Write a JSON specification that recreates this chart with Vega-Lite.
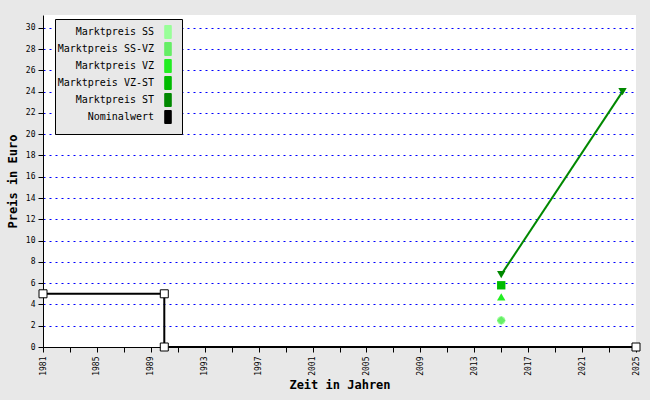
{
  "$schema": "https://vega.github.io/schema/vega-lite/v6.json",
  "width": 593,
  "height": 332,
  "autosize": "none",
  "padding": {"left": 43, "top": 15, "right": 14, "bottom": 53},
  "background": "#e8e8e8",
  "config": {
    "font": "DejaVu Sans Mono",
    "view": {"fill": "white", "stroke": null}
  },
  "data": {
    "values": [
      {"series": "Nominalwert", "year": 1981, "price": 5, "ord": 1},
      {"series": "Nominalwert", "year": 1990, "price": 5, "ord": 2},
      {"series": "Nominalwert", "year": 1990, "price": 0, "ord": 3},
      {"series": "Nominalwert", "year": 2025, "price": 0, "ord": 4},
      {"series": "Marktpreis SS", "year": 2015, "price": 2.5, "ord": 1},
      {"series": "Marktpreis SS-VZ", "year": 2015, "price": 2.5, "ord": 1},
      {"series": "Marktpreis VZ", "year": 2015, "price": 4.7, "ord": 1},
      {"series": "Marktpreis VZ-ST", "year": 2015, "price": 5.8, "ord": 1},
      {"series": "Marktpreis ST", "year": 2015, "price": 6.8, "ord": 1},
      {"series": "Marktpreis ST", "year": 2024, "price": 24, "ord": 2}
    ]
  },
  "encoding": {
    "x": {
      "field": "year", "type": "quantitative",
      "scale": {"domain": [1981, 2025], "nice": false, "zero": false},
      "axis": {
        "title": "Zeit in Jahren",
        "titleFontSize": 12, "titleFontWeight": "bold", "titleColor": "black", "titlePadding": 4,
        "values": [1981,1983,1985,1987,1989,1991,1993,1995,1997,1999,2001,2003,2005,2007,2009,2011,2013,2015,2017,2019,2021,2023,2025],
        "labelExpr": "(datum.value - 1981) % 4 == 0 ? datum.label : ''",
        "format": "d",
        "labelAngle": 270, "labelAlign": "right", "labelBaseline": "middle",
        "labelFontSize": 8, "labelColor": "black", "labelPadding": 4,
        "tickColor": "black", "tickSize": 5, "domainColor": "black", "domainWidth": 1,
        "grid": false, "labelOverlap": false, "labelFlush": false
      }
    },
    "y": {
      "field": "price", "type": "quantitative",
      "scale": {"domain": [0, 31.2], "nice": false},
      "axis": {
        "title": "Preis in Euro",
        "titleFontSize": 12, "titleFontWeight": "bold", "titleColor": "black", "titlePadding": 6,
        "values": [0,2,4,6,8,10,12,14,16,18,20,22,24,26,28,30],
        "labelFontSize": 8, "labelColor": "black", "labelPadding": 3,
        "tickColor": "black", "tickSize": 5, "domainColor": "black",
        "grid": true, "gridColor": "#0000ff", "gridDash": [2, 4], "gridWidth": 1, "gridOpacity": 1
      }
    },
    "color": {
      "field": "series", "type": "nominal",
      "scale": {
        "domain": ["Marktpreis SS", "Marktpreis SS-VZ", "Marktpreis VZ", "Marktpreis VZ-ST", "Marktpreis ST", "Nominalwert"],
        "range": ["#99ff99", "#66ee66", "#22ee22", "#00bb00", "#008800", "#000000"]
      },
      "legend": {
        "title": null, "orient": "none", "legendX": 12, "legendY": 4,
        "fillColor": "#e8e8e8", "strokeColor": "black", "padding": 8,
        "symbolType": "M-1,-2L1,-2L1,2L-1,2Z", "symbolSize": 42,
        "symbolStrokeColor": "black", "symbolStrokeWidth": 1, "symbolOpacity": 1,
        "symbolOffset": 100,
        "labelAlign": "right", "labelOffset": -19,
        "labelFontSize": 10, "labelColor": "black", "rowPadding": -1
      }
    }
  },
  "layer": [
    {
      "mark": {"type": "line", "strokeWidth": 2},
      "encoding": {"order": {"field": "ord"}}
    },
    {
      "transform": [{"filter": "datum.series == 'Nominalwert'"}],
      "mark": {"type": "point", "shape": "square", "filled": false, "fill": "white", "fillOpacity": 1, "size": 64, "strokeWidth": 1, "opacity": 1}
    },
    {
      "transform": [{"filter": "datum.series != 'Nominalwert'"}],
      "mark": {"type": "point", "filled": true, "size": 70, "opacity": 1},
      "encoding": {
        "shape": {
          "field": "series", "type": "nominal",
          "scale": {
            "domain": ["Marktpreis SS", "Marktpreis SS-VZ", "Marktpreis VZ", "Marktpreis VZ-ST", "Marktpreis ST"],
            "range": ["circle", "diamond", "triangle-up", "square", "triangle-down"]
          },
          "legend": null
        }
      }
    }
  ]
}
